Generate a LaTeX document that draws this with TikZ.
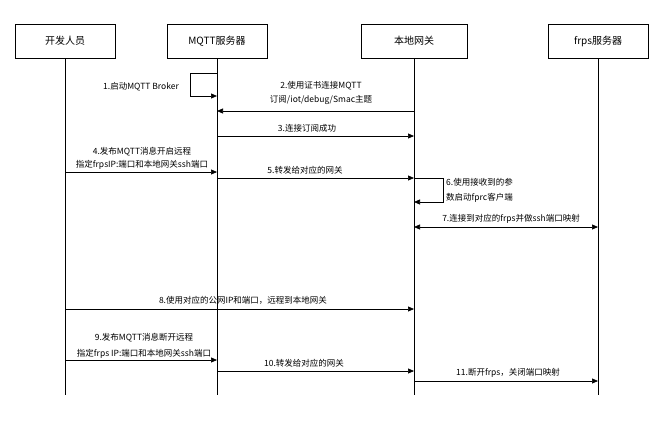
\documentclass[tikz,border=0pt]{standalone}
\usepackage{fontspec}
\setmainfont{Liberation Sans}
\newfontfamily\cjk{Noto Sans CJK SC}
\usetikzlibrary{arrows.meta}
\begin{document}
\begin{tikzpicture}[x=1pt,y=-1pt,
 actor/.style={draw, line width=0.6pt, minimum width=100pt, minimum height=34pt, font=\cjk\fontsize{10}{11}\selectfont, inner sep=0pt},
 life/.style={line width=0.6pt},
 msg/.style={line width=0.7pt, -{Triangle[length=6pt,width=5pt]}},
 dmsg/.style={line width=0.7pt, {Triangle[length=6pt,width=5pt]}-{Triangle[length=6pt,width=5pt]}},
 lbl/.style={font=\cjk\fontsize{8.5}{14}\selectfont, inner sep=0pt, align=center},
 lbll/.style={font=\cjk\fontsize{8.5}{15}\selectfont, inner sep=0pt, align=left, anchor=west},
]
\useasboundingbox (0,0) rectangle (650,428);
\fill[white] (0,0) rectangle (650,428);
% actors
\node[actor] (dev) at (65,41) {开发人员};
\node[actor] (mqtt) at (217,41) {MQTT服务器};
\node[actor, minimum width=106pt] (gw) at (414,41) {本地网关};
\node[actor] (frps) at (598,41) {frps服务器};
% y levels
\coordinate (yend) at (0,395);
\coordinate (y1a) at (0,73);
\coordinate (y1b) at (0,96);
\coordinate (y2) at (0,111);
\coordinate (y3) at (0,136);
\coordinate (y4) at (0,172);
\coordinate (y5) at (0,178);
\coordinate (y6) at (0,202);
\coordinate (y7) at (0,227);
\coordinate (y8) at (0,309);
\coordinate (y9) at (0,360);
\coordinate (y10) at (0,371);
\coordinate (y11) at (0,381);
% lifelines
\foreach \n in {dev,mqtt,gw,frps}{
  \coordinate (\n-end) at (\n |- yend);
  \draw[life] (\n.south) -- (\n-end);
}
% 1
\draw[msg] (mqtt |- y1a) -- ++(-27,0) |- (mqtt |- y1b);
\node[lbl] (l1) at (141,87) {1.启动MQTT Broker};
% 2
\draw[msg] (gw |- y2) -- (mqtt |- y2);
\node[lbl] (l2) at (321,92.5) {2.使用证书连接MQTT\\订阅/iot/debug/Smac主题};
% 3
\draw[msg] (mqtt |- y3) -- (gw |- y3);
\node[lbl] (l3) at (307,128) {3.连接订阅成功};
% 4
\draw[msg] (dev |- y4) -- (mqtt |- y4);
\node[lbl, font=\cjk\fontsize{8.5}{13}\selectfont] (l4) at (142,158.5) {4.发布MQTT消息开启远程\\指定frpsIP:端口和本地网关ssh端口};
% 5
\draw[msg] (mqtt |- y5) -- (gw |- y5);
\node[lbl] (l5) at (305,170) {5.转发给对应的网关};
% 6
\draw[msg] (gw |- y5) -- ++(29,0) |- (gw |- y6);
\node[lbll] (l6) at (446,190.5) {6.使用接收到的参\\数启动fprc客户端};
% 7
\draw[dmsg] (gw |- y7) -- (frps |- y7);
\node[lbl] (l7) at (511,219) {7.连接到对应的frps并做ssh端口映射};
% 8
\draw[msg] (dev |- y8) -- (gw |- y8);
\node[lbl] (l8) at (243,300) {8.使用对应的公网IP和端口，远程到本地网关};
% 9
\draw[msg] (dev |- y9) -- (mqtt |- y9);
\node[lbl, font=\cjk\fontsize{8.5}{16}\selectfont] (l9) at (144,346) {9.发布MQTT消息断开远程\\指定frps IP:端口和本地网关ssh端口};
% 10
\draw[msg] (mqtt |- y10) -- (gw |- y10);
\node[lbl] (l10) at (304,363) {10.转发给对应的网关};
% 11
\draw[msg] (gw |- y11) -- (frps |- y11);
\node[lbl] (l11) at (508,373) {11.断开frps，关闭端口映射};
\end{tikzpicture}
\end{document}
